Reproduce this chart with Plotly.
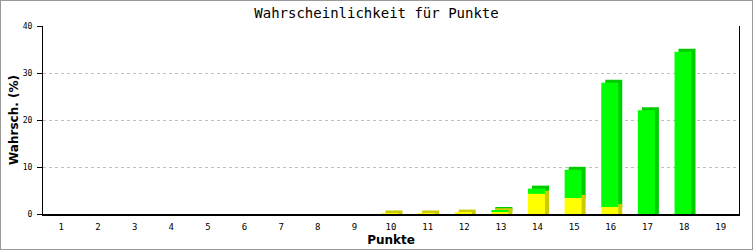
import plotly.graph_objects as go

categories = list(range(1, 20))
tick_labels = [str(c) for c in categories]
yellow = [0, 0, 0, 0, 0, 0, 0, 0, 0, 0.12, 0.12, 0.3, 0.6, 4.3, 3.4, 1.5, 0, 0, 0]
green = [0, 0, 0, 0, 0, 0, 0, 0, 0, 0, 0, 0, 0.25, 1.1, 6.0, 26.4, 22.1, 34.5, 0]

Y_MAX = 40
PLOT_W = 696
PLOT_H = 188
px_x = len(categories) / PLOT_W     # category units per pixel
px_y = Y_MAX / PLOT_H               # value units per pixel
DX = 4 * px_x
DY = 3 * px_y
W = 17 * px_x
OFF = -0.26

fig = go.Figure()

# depth (side/top faces) - green first, yellow on top
g_sh_base = [y for y in yellow]
g_sh_h = [(g + DY) if g > 0 else 0 for g in green]
y_sh_h = [(y + DY) if y > 0 else 0 for y in yellow]
fig.add_trace(go.Bar(x=categories, y=g_sh_h, base=g_sh_base, width=W, offset=OFF + DX,
                     marker=dict(color="#00CC00", line=dict(width=0)), hoverinfo="skip", showlegend=False))
fig.add_trace(go.Bar(x=categories, y=y_sh_h, base=[0] * len(categories), width=W, offset=OFF + DX,
                     marker=dict(color="#CCCC00", line=dict(width=0)), hoverinfo="skip", showlegend=False))
# front faces
fig.add_trace(go.Bar(x=categories, y=yellow, base=[0] * len(categories), width=W, offset=OFF,
                     marker=dict(color="#FFFF00", line=dict(width=0)), showlegend=False))
fig.add_trace(go.Bar(x=categories, y=green, base=yellow, width=W, offset=OFF,
                     marker=dict(color="#00FF00", line=dict(width=0)), showlegend=False))

fig.update_layout(
    width=753, height=250,
    margin=dict(l=43, r=14, t=26, b=36, autoexpand=False),
    barmode="overlay",
    paper_bgcolor="white", plot_bgcolor="white",
    title=dict(text="Wahrscheinlichkeit für Punkte", x=0.5, xanchor="center", y=1 - 13 / 250, yanchor="middle",
               font=dict(family="DejaVu Sans Mono", size=14, color="black")),
    xaxis=dict(range=[0.5, 19.5], tickmode="array", tickvals=categories, ticktext=tick_labels,
               showline=True, linecolor="black", linewidth=2, ticks="", showgrid=False, zeroline=False,
               automargin=False,
               tickfont=dict(family="DejaVu Sans Mono", size=9, color="black"), ticklabelstandoff=3,
               title=dict(text="<b>Punkte</b>", font=dict(family="DejaVu Sans", size=12, color="black"), standoff=5)),
    yaxis=dict(range=[0, Y_MAX], tickvals=[0, 10, 20, 30, 40], showline=True, mirror=True, linecolor="black",
               linewidth=1, ticks="outside", ticklen=5, tickcolor="black", automargin=False,
               showgrid=True, gridcolor="#C0C0C0", griddash="dot", gridwidth=1, zeroline=False,
               tickfont=dict(family="DejaVu Sans Mono", size=8, color="black"), ticklabelstandoff=3,
               title=dict(text="<b>Wahrsch. (%)</b>", font=dict(family="DejaVu Sans", size=12, color="black"),
                          standoff=1)),
    shapes=[dict(type="rect", xref="paper", yref="paper", x0=-43 / 696, x1=1 + 14 / 696, y0=-36 / 188,
                 y1=1 + 26 / 188, line=dict(color="#999999", width=2), fillcolor="rgba(0,0,0,0)", layer="below")],
)

fig.write_html("out.html")
